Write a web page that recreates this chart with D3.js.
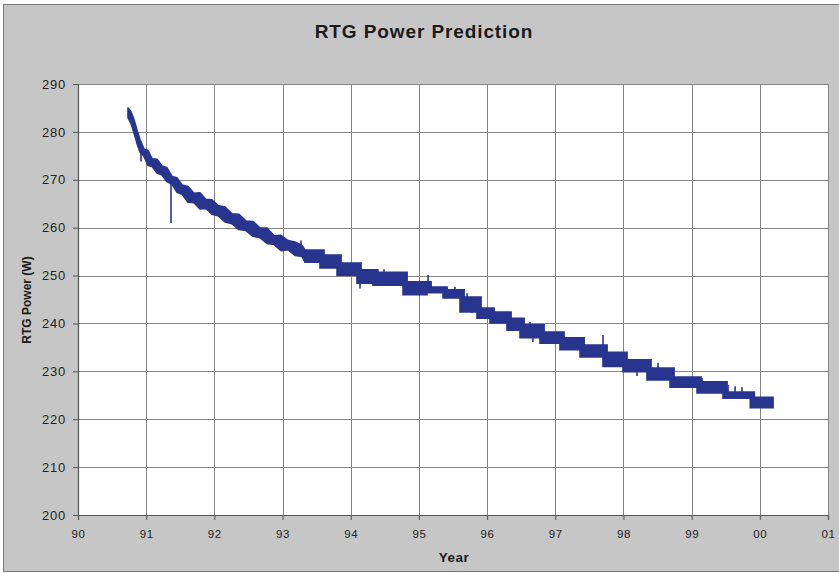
<!DOCTYPE html>
<html>
<head>
<meta charset="utf-8">
<script src="https://cdn.jsdelivr.net/npm/d3@7"></script>
<style>
  html, body { margin: 0; padding: 0; background: #fff; }
  svg { display: block; }
  text { font-family: "Liberation Sans", Arial, sans-serif; }
</style>
</head>
<body>
<svg id="chart" width="839" height="573"></svg>
<script>
// Early decay: measured power envelope (upper / lower edge of the telemetry band)
const earlyYears = [1990.733, 1990.777, 1990.821, 1990.865, 1990.909, 1990.968, 1991.027, 1991.085,
                    1991.159, 1991.232, 1991.305, 1991.379, 1991.452, 1991.525, 1991.613, 1991.701,
                    1991.789, 1991.877, 1991.965, 1992.053, 1992.156, 1992.259, 1992.361, 1992.464,
                    1992.567, 1992.669, 1992.772, 1992.875, 1992.977, 1993.080, 1993.183, 1993.285,
                    1993.329];
const earlyHigh  = [285.0, 284.2, 282.6, 280.4, 278.4, 276.4, 276.1, 274.4,
                    274.3, 272.9, 272.5, 270.7, 270.4, 268.9, 268.6, 267.2,
                    267.3, 265.9, 265.8, 264.6, 264.3, 262.9, 262.8, 261.4,
                    261.3, 259.9, 259.9, 258.3, 258.4, 257.3, 257.0, 256.3,
                    255.3];
const earlyLow   = [283.0, 281.8, 279.8, 277.6, 275.8, 274.9, 273.0, 272.8,
                    271.4, 271.0, 269.6, 269.1, 267.4, 267.0, 265.3, 265.2,
                    263.9, 264.0, 262.8, 262.5, 261.2, 260.8, 259.6, 259.4,
                    258.2, 257.9, 256.7, 256.5, 255.2, 255.4, 254.2, 254.0,
                    252.8];

// Later decay: quantized telemetry levels (start year of each level, band upper / lower edge)
const stepYears = [1993.329, 1993.549, 1993.799, 1994.092, 1994.327, 1994.767, 1995.119, 1995.354,
                   1995.603, 1995.852, 1996.043, 1996.292, 1996.483, 1996.776, 1997.069, 1997.363,
                   1997.700, 1997.993, 1998.345, 1998.683, 1999.079, 1999.460, 1999.860, 2000.194];
const stepHigh  = [255.3, 254.3, 252.6, 251.2, 250.7, 248.7, 247.6, 247.0,
                   245.5, 243.2, 242.4, 241.1, 239.7, 238.2, 237.0, 235.5,
                   234.0, 232.4, 230.7, 228.8, 227.8, 225.7, 224.6, 224.6];
const stepLow   = [252.8, 251.6, 250.1, 248.4, 248.0, 246.0, 246.4, 245.3,
                   242.4, 241.1, 240.1, 238.6, 237.0, 235.9, 234.5, 233.0,
                   231.0, 229.9, 228.2, 226.7, 225.5, 224.4, 222.4, 222.4];

// Isolated outlier readings: year, band value they leave from, value reached
const spikeYears = [1990.924, 1991.364, 1993.271, 1994.136, 1994.400, 1994.488, 1995.134, 1995.383,
                    1995.530, 1995.706, 1995.780, 1996.630, 1996.670, 1997.700, 1998.199, 1998.507,
                    1999.152, 1999.387, 1999.534, 1999.637, 1999.739];
const spikeBase  = [276.0, 269.5, 256.0, 248.5, 250.5, 250.5, 247.5, 246.5,
                    246.8, 245.0, 243.0, 239.5, 237.0, 234.5, 230.0, 230.5,
                    227.5, 227.5, 225.7, 225.7, 225.7];
const spikeTip   = [273.8, 261.0, 257.3, 247.3, 251.3, 251.3, 250.1, 247.4,
                    247.6, 246.3, 242.2, 240.3, 236.1, 237.6, 229.0, 231.8,
                    228.6, 228.0, 227.2, 226.9, 226.7];

const yearTicks  = d3.range(1990, 2002);
const powerTicks = d3.range(200, 291, 10);

const svg = d3.select("#chart");
const W = 839, H = 573;
const plot = { left: 78, right: 828, top: 84, bottom: 515 };
const lineColor = "#27358f";
// readings toggle between the old and new level for a short while at each step
const toggleSpan = 0.06;

// Chart frame
svg.append("rect")
  .attr("x", 3.5).attr("y", 4.5).attr("width", W + 10).attr("height", H - 6)
  .attr("fill", "#c6c6c6").attr("stroke", "#7a7a7a").attr("stroke-width", 1);

const x = d3.scaleLinear().domain([1990, 2001]).range([plot.left, plot.right]);
const y = d3.scaleLinear().domain([200, 290]).range([plot.bottom, plot.top]);

// Plot area
svg.append("rect")
  .attr("x", plot.left).attr("y", plot.top)
  .attr("width", plot.right - plot.left).attr("height", plot.bottom - plot.top)
  .attr("fill", "#ffffff");

// Gridlines
const grid = svg.append("g").attr("stroke", "#868686").attr("stroke-width", 1).attr("shape-rendering", "crispEdges");
grid.selectAll(".gx").data(yearTicks.slice(1)).join("line")
  .attr("x1", d => Math.round(x(d)) + 0.5).attr("x2", d => Math.round(x(d)) + 0.5)
  .attr("y1", plot.top).attr("y2", plot.bottom);
grid.selectAll(".gy").data(powerTicks.slice(1)).join("line")
  .attr("y1", d => Math.round(y(d)) + 0.5).attr("y2", d => Math.round(y(d)) + 0.5)
  .attr("x1", plot.left).attr("x2", plot.right);

// Axes
const xAxis = d3.axisBottom(x).tickValues(yearTicks).tickSize(5).tickPadding(10)
  .tickFormat(d => String(d % 100).padStart(2, "0"));
const yAxis = d3.axisLeft(y).tickValues(powerTicks).tickSize(5).tickPadding(7);

const gx = svg.append("g").attr("transform", `translate(0,${plot.bottom})`).call(xAxis);
const gy = svg.append("g").attr("transform", `translate(${plot.left},0)`).call(yAxis);
[gx, gy].forEach(g => {
  g.select(".domain").attr("stroke", "#555").attr("stroke-width", 1.2);
  g.selectAll(".tick line").attr("stroke", "#555");
  g.selectAll(".tick text").attr("fill", "#222")
    .style("font-family", "'Liberation Sans', Arial, sans-serif");
});
gy.selectAll(".tick text").style("font-size", "13px").style("letter-spacing", "0.8px");
gx.selectAll(".tick text").style("font-size", "11.5px").style("letter-spacing", "0.6px");

// Power band: smooth early segment
const early = earlyYears.map((t, i) => ({ t, hi: earlyHigh[i], lo: earlyLow[i] }));
const bandEarly = d3.area().x(d => x(d.t)).y0(d => y(d.lo)).y1(d => y(d.hi)).curve(d3.curveLinear);
svg.append("path").datum(early).attr("d", bandEarly)
  .attr("fill", lineColor).attr("stroke", lineColor).attr("stroke-width", 1.6).attr("stroke-linejoin", "round");

// Power band: quantized levels; the lower edge drops first, the upper edge follows
const steps = [];
stepYears.forEach((t, i) => {
  if (i > 0 && i < stepYears.length - 1) steps.push({ t, hi: stepHigh[i - 1], lo: stepLow[i] });
  steps.push({ t: (i > 0 && i < stepYears.length - 1) ? t + toggleSpan : t, hi: stepHigh[i], lo: stepLow[i] });
});
const bandSteps = d3.area().x(d => x(d.t)).y0(d => y(d.lo)).y1(d => y(d.hi)).curve(d3.curveStepAfter);
svg.append("path").datum(steps).attr("d", bandSteps)
  .attr("fill", lineColor).attr("stroke", lineColor).attr("stroke-width", 1.6);

svg.append("g").selectAll("line").data(spikeYears).join("line")
  .attr("x1", d => x(d)).attr("x2", d => x(d))
  .attr("y1", (d, i) => y(spikeBase[i])).attr("y2", (d, i) => y(spikeTip[i]))
  .attr("stroke", lineColor).attr("stroke-width", 1.6);

// Titles
svg.append("text").attr("x", 424).attr("y", 38).attr("text-anchor", "middle")
  .style("font-size", "19px").style("font-weight", "bold").style("letter-spacing", "0.9px")
  .attr("fill", "#1a1a1a")
  .text("RTG Power Prediction");

svg.append("text").attr("x", 454).attr("y", 562).attr("text-anchor", "middle")
  .style("font-size", "13.5px").style("font-weight", "bold").style("letter-spacing", "0.5px")
  .attr("fill", "#1a1a1a")
  .text("Year");

svg.append("text").attr("transform", "translate(31,300) rotate(-90)").attr("text-anchor", "middle")
  .style("font-size", "12px").style("font-weight", "bold").attr("fill", "#1a1a1a")
  .text("RTG Power (W)");
</script>
</body>
</html>
